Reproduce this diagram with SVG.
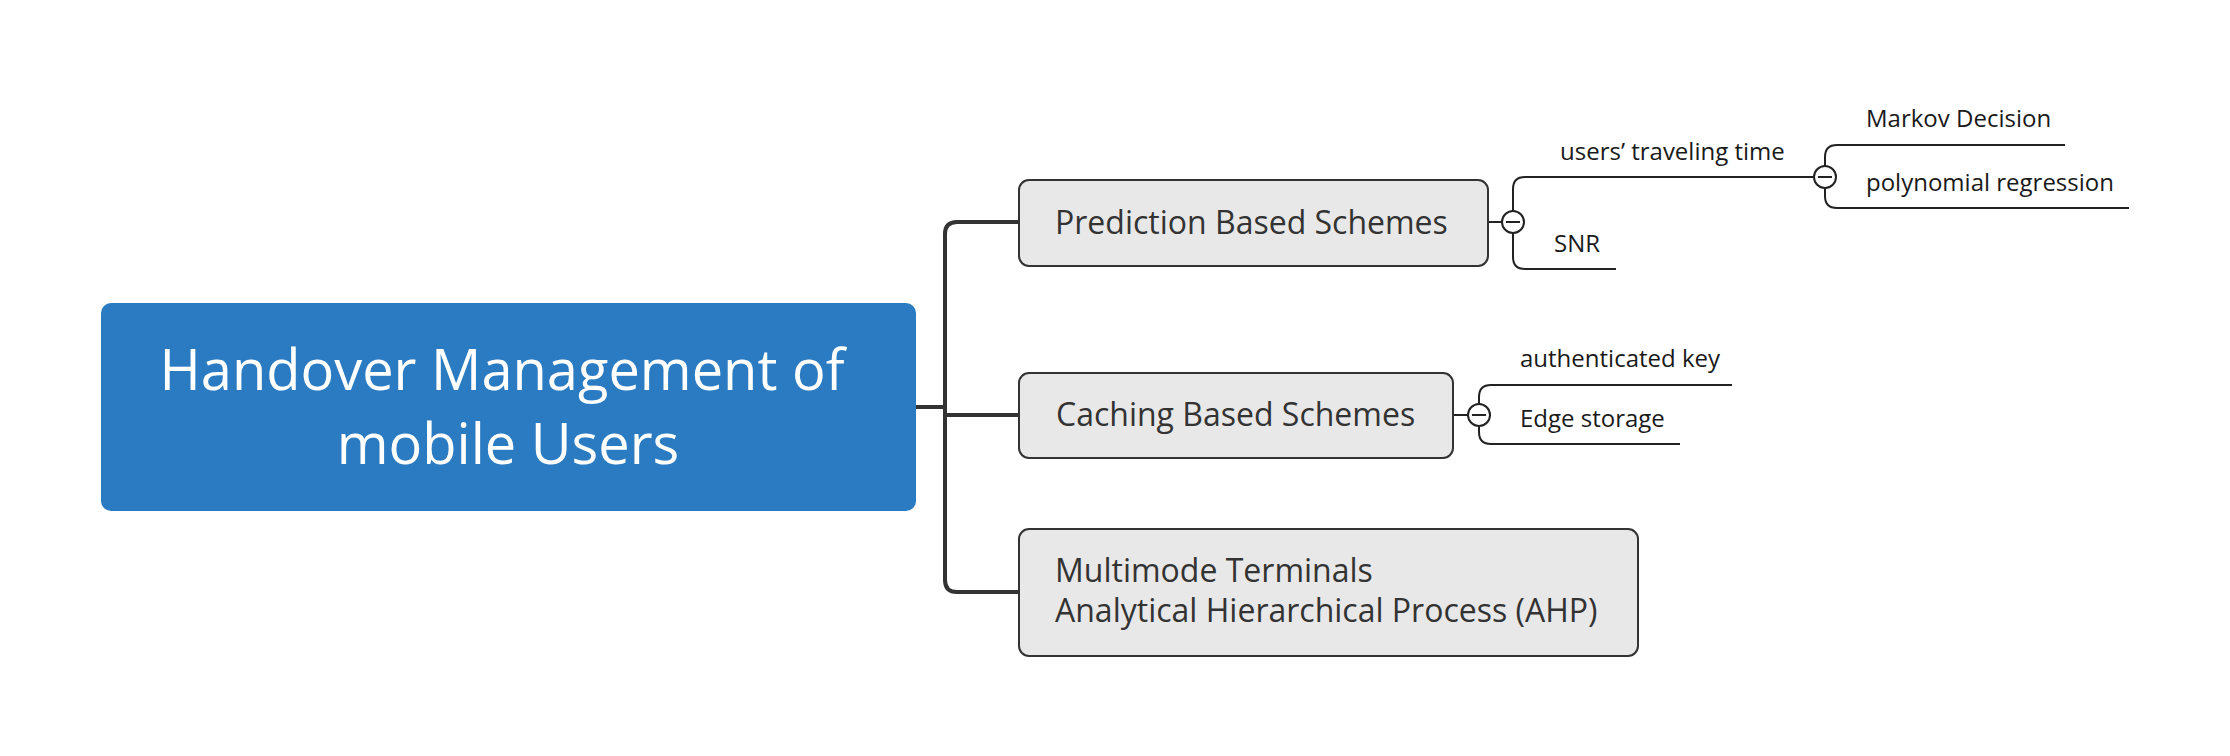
<svg xmlns="http://www.w3.org/2000/svg" width="2230" height="756" viewBox="0 0 2230 756">
<style>
.main{fill:none;stroke:#333;stroke-width:4;stroke-linejoin:round}
.sub{fill:none;stroke:#222;stroke-width:2}
.node{fill:#e8e8e8;stroke:#333;stroke-width:2}
.nt{font-family:"Open Sans",sans-serif;font-size:32px;fill:#333}
.lt{font-family:"Open Sans",sans-serif;font-size:24px;fill:#1a1a1a}
.col{fill:#fff;stroke:#222;stroke-width:2}
</style>
<rect width="2230" height="756" fill="#fff"/>
<g id="connectors">
<path class="main" d="M916,407 H945"/>
<path class="main" d="M1018,222 H957 Q945,222 945,234 V580 Q945,592 957,592 H1018"/>
<path class="main" d="M945,415 H1018"/>
<path class="sub" d="M1488,222 H1502"/>
<path class="sub" d="M1513,211 V189 Q1513,177 1525,177 H1814"/>
<path class="sub" d="M1513,233 V257 Q1513,269 1525,269 H1616"/>
<path class="sub" d="M1825,166 V157 Q1825,145 1837,145 H2065"/>
<path class="sub" d="M1825,188 V196 Q1825,208 1837,208 H2129"/>
<path class="sub" d="M1453,415 H1468"/>
<path class="sub" d="M1479,404 V397 Q1479,385 1491,385 H1732"/>
<path class="sub" d="M1479,426 V432 Q1479,444 1491,444 H1680"/>
<circle class="col" cx="1513" cy="222" r="11"/><path class="sub" d="M1506,222 H1520"/>
<circle class="col" cx="1825" cy="177" r="11"/><path class="sub" d="M1818,177 H1832"/>
<circle class="col" cx="1479" cy="415" r="11"/><path class="sub" d="M1472,415 H1486"/>
</g>
<g id="root">
<rect x="101" y="303" width="815" height="208" rx="10" fill="#2b7bc2"/>
<text x="502" y="390" text-anchor="middle" font-family="Open Sans, sans-serif" font-size="56" fill="#fff">Handover Management of</text>
<text x="508" y="464" text-anchor="middle" font-family="Open Sans, sans-serif" font-size="56" fill="#fff">mobile Users</text>
</g>
<g id="prediction">
<rect class="node" x="1019" y="180" width="469" height="86" rx="10"/>
<text class="nt" x="1055" y="234">Prediction Based Schemes</text>
</g>
<g id="caching">
<rect class="node" x="1019" y="373" width="434" height="85" rx="10"/>
<text class="nt" x="1056" y="426">Caching Based Schemes</text>
</g>
<g id="multimode">
<rect class="node" x="1019" y="529" width="619" height="127" rx="10"/>
<text class="nt" x="1055" y="582">Multimode Terminals</text>
<text class="nt" x="1055" y="622">Analytical Hierarchical Process (AHP)</text>
</g>
<g id="users-traveling-time"><text class="lt" x="1560" y="160">users’ traveling time</text></g>
<g id="snr"><text class="lt" x="1554" y="252">SNR</text></g>
<g id="markov"><text class="lt" x="1866" y="127">Markov Decision</text></g>
<g id="polynomial"><text class="lt" x="1866" y="191">polynomial regression</text></g>
<g id="authenticated-key"><text class="lt" x="1520" y="367">authenticated key</text></g>
<g id="edge-storage"><text class="lt" x="1520" y="427">Edge storage</text></g>
</svg>
